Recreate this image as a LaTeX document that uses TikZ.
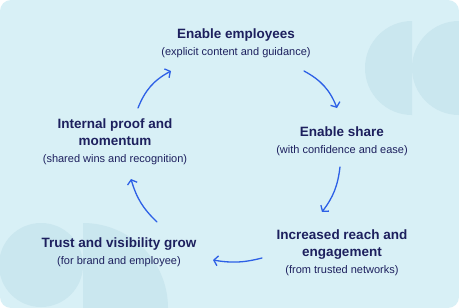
\documentclass[tikz,border=0pt]{standalone}
\usepackage{fontspec}
\setmainfont{Liberation Sans}
\usetikzlibrary{arrows.meta,positioning}
\definecolor{cardbg}{HTML}{D8F0F6}
\definecolor{blobbg}{HTML}{CAE7EF}
\definecolor{inkblue}{HTML}{1D205E}
\definecolor{loopblue}{HTML}{2D60E6}
\tikzset{
  stage/.style ={text=inkblue,align=center,inner sep=0pt,anchor=base,
                 font=\fontsize{13.5}{17.5}\selectfont\bfseries},
  note/.style  ={text=inkblue,inner sep=0pt,anchor=base,
                 font=\fontsize{11}{13}\selectfont},
  loop/.style  ={-{Straight Barb[length=4pt,width=10pt]},draw=loopblue,
                 line width=1.3pt,line cap=round},
}

\begin{document}
\begin{tikzpicture}[x=1pt,y=-1pt]
\useasboundingbox (0,0) rectangle (459,308);

% card and background blobs
\fill[white] (0,0) rectangle (459,308);
\fill[cardbg,rounded corners=11pt] (0,0) rectangle (459,308);
\begin{scope}
  \clip[rounded corners=11pt] (0,0) rectangle (459,308);
  \fill[blobbg] (412,115) arc[start angle=90,end angle=270,radius=47] -- cycle;
  \fill[blobbg] (459,115) arc[start angle=90,end angle=270,radius=47] -- cycle;
  \fill[blobbg] (41,265) circle[radius=42];
  \fill[blobbg] (83,308) -- (83,223) arc[start angle=270,end angle=360,radius=85] -- cycle;
\end{scope}

% stages (base = last line)
\node[stage] (employees) at (236,38) {Enable employees};
\node[note] (employees-note) at ([yshift=-17.5pt]employees.base) {(explicit content and guidance)};
\node[stage] (share) at (342,136) {Enable share};
\node[note] (share-note) at ([yshift=-17.5pt]share.base) {(with confidence and ease)};
\node[stage] (reach) at (342,256.5) {Increased reach and\\engagement};
\node[note] (reach-note) at ([yshift=-16.5pt]reach.base) {(from trusted networks)};
\node[stage] (trust) at (119,247) {Trust and visibility grow};
\node[note] (trust-note) at ([yshift=-17.5pt]trust.base) {(for brand and employee)};
\node[stage] (proof) at (115,145.5) {Internal proof and\\momentum};
\node[note] (proof-note) at ([yshift=-16.5pt]proof.base) {(shared wins and recognition)};

% arrow ends
\coordinate (a1) at (138,108); \coordinate (b1) at (171,71);
\coordinate (a2) at (304,71);  \coordinate (b2) at (337,108);
\coordinate (a3) at (340,167); \coordinate (b3) at (322,212);
\coordinate (a4) at (262,258); \coordinate (b4) at (213,260);
\coordinate (a5) at (157,222); \coordinate (b5) at (131,179);

% cycle
\draw[loop] (a1) to[bend left=20] (b1);
\draw[loop] (a2) to[bend left=20] (b2);
\draw[loop] (a3) to[bend left=15] (b3);
\draw[loop] (a4) to[bend left=12] (b4);
\draw[loop] (a5) to[bend left=15] (b5);

\end{tikzpicture}
\end{document}
